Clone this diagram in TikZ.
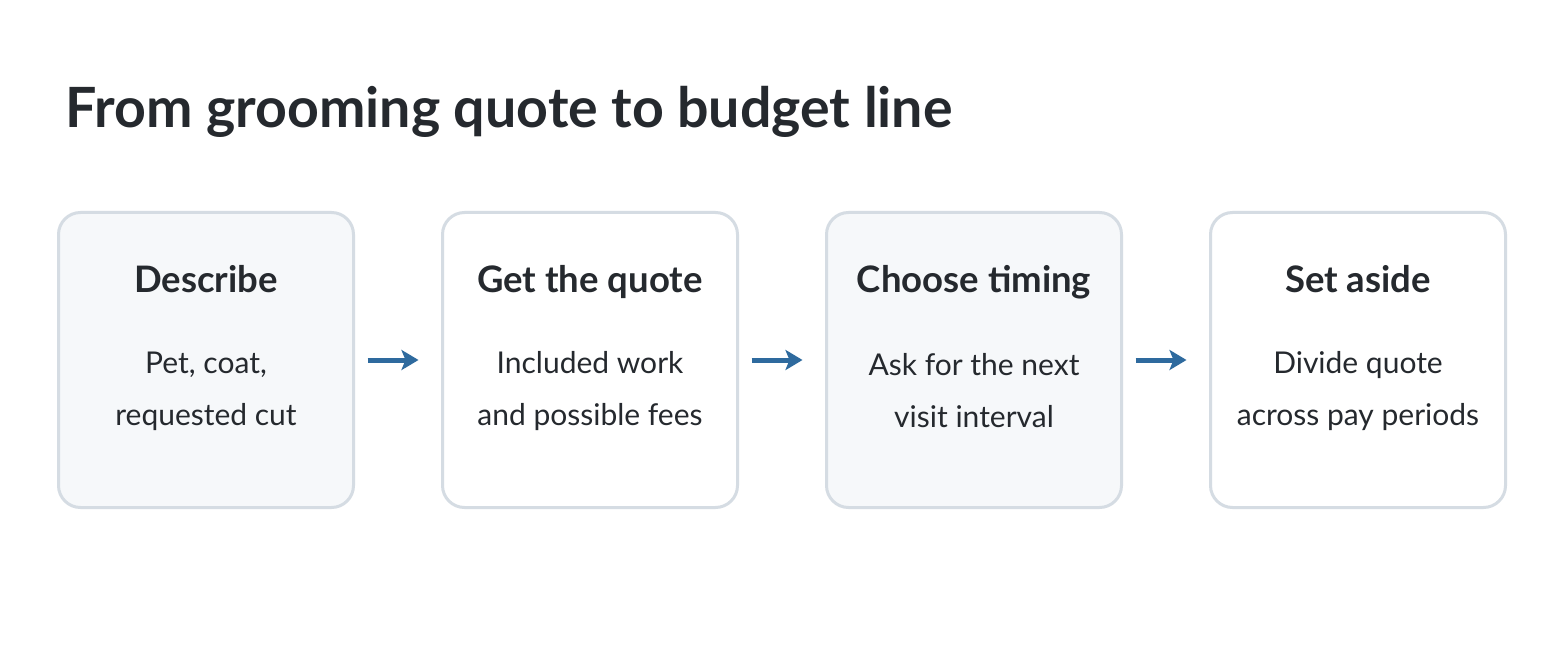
\documentclass[tikz,border=0pt]{standalone}
\usepackage{fontspec}
\setmainfont{Lato}
\usetikzlibrary{positioning, arrows.meta}

\definecolor{inkdark}{HTML}{25292E}
\definecolor{boxline}{HTML}{D5DCE3}
\definecolor{boxfill}{HTML}{F6F8FA}
\definecolor{flowblue}{HTML}{2E6A9E}

\begin{document}
\begin{tikzpicture}[x=1pt,y=-1pt,
  stepbox/.style={draw=boxline, line width=3pt, rounded corners=22pt,
    minimum width=295pt, minimum height=295pt, inner sep=0pt},
  headtext/.style={font=\fontsize{36.5}{42}\selectfont\bfseries, text=inkdark, anchor=base},
  bodytext/.style={font=\fontsize{30}{52}\selectfont, text=inkdark, align=center},
  flow/.style={-{Stealth[length=17pt,width=20pt,inset=4pt]}, draw=flowblue,
    line width=5pt, shorten <=12.5pt, shorten >=22.5pt}]

\fill[white] (0,0) rectangle (1546,660);
\useasboundingbox (0,0) rectangle (1546,660);

\def\boxy{360}
\def\heady{292}
\def\bodyy{391}

\node[anchor=base west, font=\fontsize{55.5}{60}\selectfont\bfseries, text=inkdark, inner sep=0pt]
  (title) at (65,128) {From grooming quote to budget line};

% the four steps
\node[stepbox, fill=boxfill] (describe) at (206,\boxy) {};
\node[stepbox, fill=white]   (quote)    at (590,\boxy) {};
\node[stepbox, fill=boxfill] (timing)   at (974,\boxy) {};
\node[stepbox, fill=white]   (aside)    at (1358,\boxy) {};

\node[headtext] (describehead) at (206,\heady) {Describe};
\node[headtext] (quotehead)    at (590,\heady) {Get the quote};
\node[headtext] (timinghead)   at (974,\heady) {Choose timing};
\node[headtext] (asidehead)    at (1358,\heady) {Set aside};

\node[bodytext] (describebody) at (206,\bodyy) {Pet, coat,\\requested cut};
\node[bodytext] (quotebody)    at (590,\bodyy) {Included work\\and possible fees};
\node[bodytext] (timingbody)   at (974,\bodyy) {Ask for the next\\visit interval};
\node[bodytext] (asidebody)    at (1358,\bodyy) {Divide quote\\across pay periods};

\draw[flow] (describe) -- (quote);
\draw[flow] (quote) -- (timing);
\draw[flow] (timing) -- (aside);

\end{tikzpicture}
\end{document}
